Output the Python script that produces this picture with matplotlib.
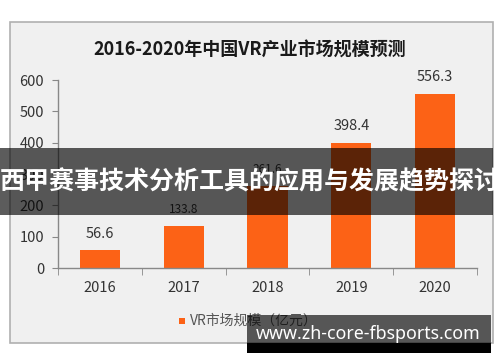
import matplotlib
matplotlib.use("Agg")
import matplotlib.pyplot as plt
from matplotlib.patches import Rectangle

plt.rcParams['font.family'] = ['Noto Sans CJK SC', 'DejaVu Sans']

years = ["2016", "2017", "2018", "2019", "2020"]
values = [56.6, 133.8, 261.6, 398.4, 556.3]
label_sizes = [10.5, 8.5, 8.5, 10.5, 10.5]
yticks = [0, 100, 200, 300, 400, 500, 600]
title = "2016-2020年中国VR产业市场规模预测"
legend_label = "VR市场规模（亿元）"
banner_text = "西甲赛事技术分析工具的应用与发展趋势探讨"
watermark = "www.zh-core-fbsports.com"

W, H = 500, 362
fig = plt.figure(figsize=(5, 3.62), dpi=100)
fig.patch.set_facecolor("white")

def fx(px): return px / W
def fy(py): return 1 - py / H

# chart frame
fig.patches.append(Rectangle((fx(10), fy(343)), fx(493) - fx(10), fy(22) - fy(343),
                             transform=fig.transFigure, facecolor="#f0f0f0",
                             edgecolor="#b0b0b0", linewidth=1.2, zorder=-1))

ax = fig.add_axes([fx(58), fy(268), fx(477) - fx(58), fy(80) - fy(268)])
ax.set_zorder(1)
ax.set_facecolor("none")
x = list(range(len(years)))
bar_color = "#fc6216"
ax.bar(x, values, width=0.48, color=bar_color, zorder=2)
for xi, v, s in zip(x, values, label_sizes):
    ax.annotate(f"{v}", (xi, v), xytext=(0, 7), textcoords="offset points",
                ha="center", va="bottom", fontsize=s, color="#333333")
ax.set_xlim(-0.5, len(years) - 0.5)
ax.set_ylim(0, 600)
ax.set_yticks(yticks)
ax.set_yticklabels([str(t) for t in yticks], fontsize=10.5, color="#333333")
ax.set_xticks(x)
ax.set_xticklabels(years, fontsize=10.5, color="#333333")
ax.tick_params(axis="x", length=0, pad=9)
ax.set_xticks([i - 0.5 for i in range(len(years) + 1)], minor=True)
ax.tick_params(axis="x", which="minor", length=5, color="#888888", direction="out")
ax.tick_params(axis="y", length=4, color="#888888", direction="out", pad=6)
for side in ["top", "right"]:
    ax.spines[side].set_visible(False)
for side in ["left", "bottom"]:
    ax.spines[side].set_color("#888888")
    ax.spines[side].set_linewidth(1)

fig.text(fx(250), fy(50), title, ha="center", va="center", fontsize=13,
         fontweight="bold", color="#1a1a1a")

# legend
fig.patches.append(Rectangle((fx(179), fy(324)), fx(6), fy(318) - fy(324),
                             transform=fig.transFigure, facecolor=bar_color,
                             edgecolor="none", zorder=3))
fig.text(fx(190), fy(321), legend_label, ha="left", va="center", fontsize=10,
         color="#555555")

# banner overlay
fig.patches.append(Rectangle((0, fy(215)), fx(493), fy(148) - fy(215),
                             transform=fig.transFigure, facecolor="black",
                             alpha=0.64, edgecolor="none", zorder=5))
fig.text(fx(250), fy(182), banner_text, ha="center", va="center", fontsize=18,
         fontweight="bold", color="white", zorder=6)

# watermark
fig.patches.append(Rectangle((fx(247), fy(353)), fx(491) - fx(247), fy(315) - fy(353),
                             transform=fig.transFigure, facecolor="black",
                             alpha=0.64, edgecolor="none", zorder=5))
fig.patches.append(Rectangle((fx(247), fy(353)), fx(491) - fx(247), fy(343) - fy(353),
                             transform=fig.transFigure, facecolor="black",
                             edgecolor="none", zorder=5))
fig.text(fx(368), fy(334), watermark, ha="center", va="center", fontsize=12.8,
         fontweight="bold", color="white", family=["Noto Sans", "DejaVu Sans"], zorder=6)

fig.savefig("out.png", dpi=100)
